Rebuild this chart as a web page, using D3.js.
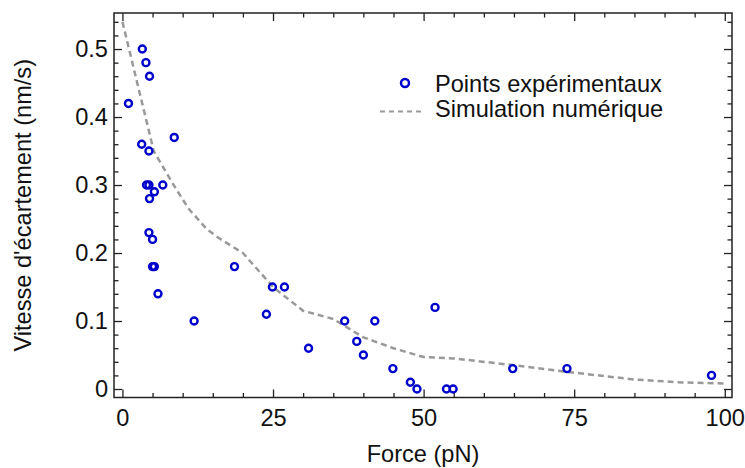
<!DOCTYPE html>
<html>
<head>
<meta charset="utf-8">
<script src="https://cdn.jsdelivr.net/npm/d3@7"></script>
<style>
  body { margin: 0; background: #fff; }
  svg text { font-family: "Liberation Sans", Arial, sans-serif; fill: #111; }
</style>
</head>
<body>
<svg id="chart" width="745" height="468"></svg>
<script>
// experimental points
const forceExp = [1, 3.3, 3.9, 4.5, 8.6, 3.2, 4.4, 4.0, 4.4, 6.7, 5.3, 4.5, 4.4, 5.0, 5.0, 5.3, 5.9, 11.9, 18.6,
  23.9, 24.9, 26.9, 30.9, 36.9, 38.9, 40.0, 41.9, 44.9, 47.8, 48.9, 51.9, 53.8, 54.9, 64.8, 73.8, 97.8];
const vitesseExp = [0.42, 0.5, 0.48, 0.46, 0.37, 0.36, 0.35, 0.30, 0.30, 0.30, 0.29, 0.28, 0.23, 0.22, 0.18, 0.18, 0.14, 0.10, 0.18,
  0.11, 0.15, 0.15, 0.06, 0.10, 0.07, 0.05, 0.10, 0.03, 0.01, 0.0, 0.12, 0.0, 0.0, 0.03, 0.03, 0.02];

// numerical simulation
const forceSim = [0, 5.2, 8.5, 11, 14, 16, 20, 25, 30, 35, 40, 45, 50, 55, 65, 75, 85, 92, 100];
const vitesseSim = [0.54, 0.35, 0.30, 0.265, 0.235, 0.222, 0.20, 0.15, 0.115, 0.103, 0.076, 0.06, 0.047, 0.045, 0.035, 0.024, 0.014, 0.01, 0.008];

const xTicks = [0, 25, 50, 75, 100];
const yTicks = [0, 0.1, 0.2, 0.3, 0.4, 0.5];
const yTickLabels = ['0', '0.1', '0.2', '0.3', '0.4', '0.5'];
const legendLabels = ['Points expérimentaux', 'Simulation numérique'];

const svg = d3.select('#chart');
const plotL = 114, plotR = 732, plotT = 13, plotB = 397.5;

const x = d3.scaleLinear().domain([-1.4, 101.2]).range([plotL, plotR]);
const y = d3.scaleLinear().domain([-0.0125, 0.553]).range([plotB, plotT]);

const xMinor = d3.range(5, 100, 5).filter(v => v % 25 !== 0);
const yMinor = d3.range(0.02, 0.55, 0.02).map(v => +v.toFixed(2)).filter(v => Math.abs(v * 10 - Math.round(v * 10)) > 1e-6);

const fs = 23.6;

function styleAxis(g) {
  g.select('.domain').remove();
  g.selectAll('line').attr('stroke', '#222').attr('stroke-width', 1.3);
  g.selectAll('text').style('font-size', fs + 'px').attr('fill', '#111');
}

// bottom
svg.append('g').attr('transform', `translate(0,${plotB})`)
  .call(d3.axisBottom(x).tickValues(xTicks).tickSizeInner(-8).tickSizeOuter(0).tickPadding(12))
  .call(styleAxis);
svg.append('g').attr('transform', `translate(0,${plotB})`)
  .call(d3.axisBottom(x).tickValues(xMinor).tickFormat('').tickSizeInner(-4.5).tickSizeOuter(0))
  .call(styleAxis);
// top
svg.append('g').attr('transform', `translate(0,${plotT})`)
  .call(d3.axisTop(x).tickValues(xTicks).tickFormat('').tickSizeInner(-8).tickSizeOuter(0))
  .call(styleAxis);
svg.append('g').attr('transform', `translate(0,${plotT})`)
  .call(d3.axisTop(x).tickValues(xMinor).tickFormat('').tickSizeInner(-4.5).tickSizeOuter(0))
  .call(styleAxis);
// left
svg.append('g').attr('transform', `translate(${plotL},0)`)
  .call(d3.axisLeft(y).tickValues(yTicks).tickFormat((d, i) => yTickLabels[i]).tickSizeInner(-8).tickSizeOuter(0).tickPadding(6))
  .call(styleAxis);
svg.append('g').attr('transform', `translate(${plotL},0)`)
  .call(d3.axisLeft(y).tickValues(yMinor).tickFormat('').tickSizeInner(-4.5).tickSizeOuter(0))
  .call(styleAxis);
// right
svg.append('g').attr('transform', `translate(${plotR},0)`)
  .call(d3.axisRight(y).tickValues(yTicks).tickFormat('').tickSizeInner(-8).tickSizeOuter(0))
  .call(styleAxis);
svg.append('g').attr('transform', `translate(${plotR},0)`)
  .call(d3.axisRight(y).tickValues(yMinor).tickFormat('').tickSizeInner(-4.5).tickSizeOuter(0))
  .call(styleAxis);

// frame
svg.append('rect')
  .attr('x', plotL).attr('y', plotT)
  .attr('width', plotR - plotL).attr('height', plotB - plotT)
  .attr('fill', 'none').attr('stroke', '#222').attr('stroke-width', 1.5);

// simulation curve
const line = d3.line().x(d => x(d[0])).y(d => y(d[1]));
svg.append('path')
  .datum(forceSim.map((f, i) => [f, vitesseSim[i]]))
  .attr('d', line)
  .attr('fill', 'none')
  .attr('stroke', '#999')
  .attr('stroke-width', 2.5)
  .attr('stroke-dasharray', '6,4');

// experimental points
svg.selectAll('circle.pt')
  .data(forceExp.map((f, i) => [f, vitesseExp[i]]))
  .enter()
  .append('circle')
  .attr('class', 'pt')
  .attr('cx', d => x(d[0]))
  .attr('cy', d => y(d[1]))
  .attr('r', 3.5)
  .attr('fill', 'none')
  .attr('stroke', '#0000cc')
  .attr('stroke-width', 2.4);

// legend
const lg = svg.append('g');
lg.append('circle')
  .attr('cx', 405).attr('cy', 83).attr('r', 4)
  .attr('fill', 'none').attr('stroke', '#0000cc').attr('stroke-width', 2.5);
lg.append('line')
  .attr('x1', 380).attr('x2', 424).attr('y1', 111.5).attr('y2', 111.5)
  .attr('stroke', '#999').attr('stroke-width', 2.2).attr('stroke-dasharray', '5,4');
lg.selectAll('text')
  .data(legendLabels)
  .enter()
  .append('text')
  .attr('x', 435)
  .attr('y', (d, i) => 92 + i * 25)
  .style('font-size', fs + 'px')
  .text(d => d);

// axis titles
svg.append('text')
  .attr('x', (plotL + plotR) / 2).attr('y', 462)
  .attr('text-anchor', 'middle')
  .style('font-size', fs + 'px')
  .text('Force (pN)');
svg.append('text')
  .attr('transform', `translate(31,${(plotT + plotB) / 2}) rotate(-90)`)
  .attr('text-anchor', 'middle')
  .style('font-size', fs + 'px')
  .text("Vitesse d'écartement (nm/s)");
</script>
</body>
</html>
